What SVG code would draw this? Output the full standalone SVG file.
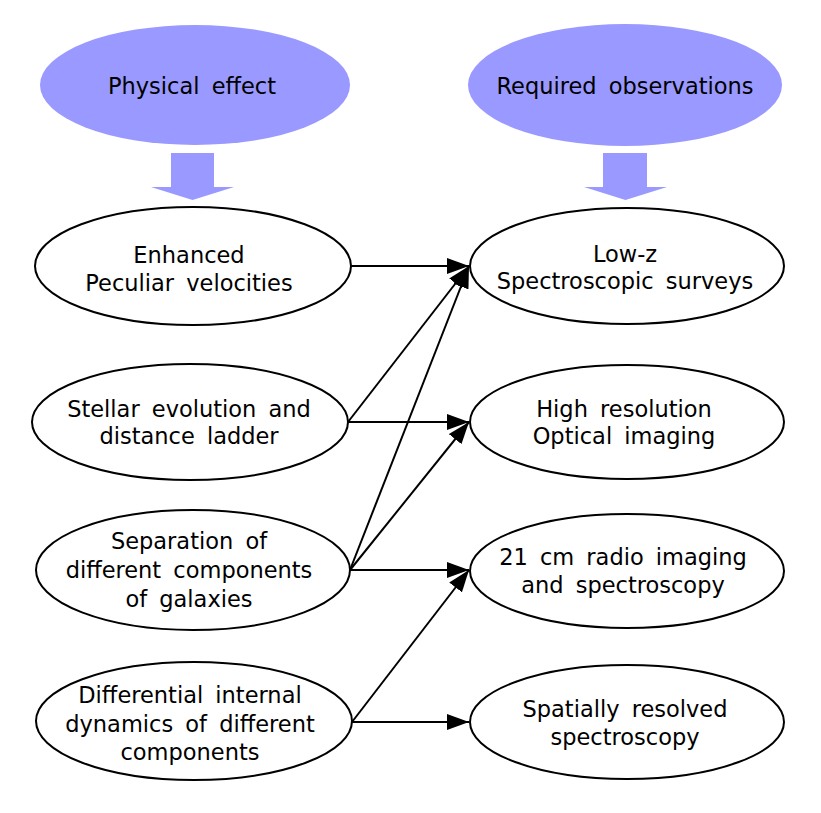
<svg xmlns="http://www.w3.org/2000/svg" width="821" height="813" viewBox="0 0 821 813">
<style>
  .hdr { fill: #9999ff; stroke: none; }
  .blk { fill: #9999ff; stroke: none; }
  .node { fill: #ffffff; stroke: #000000; stroke-width: 2; }
  text { font-family: "DejaVu Sans", Verdana, sans-serif; font-size: 22.5px; fill: #000000; text-anchor: middle; word-spacing: 5px; }
  .edge { stroke: #000000; stroke-width: 2; fill: none; marker-end: url(#ah); }
</style>
<defs>
  <marker id="ah" viewBox="0 0 22 16" refX="22" refY="8" markerWidth="22" markerHeight="16" markerUnits="userSpaceOnUse" orient="auto">
    <path d="M0,0 L22,8 L0,16 z" fill="#000000"/>
  </marker>
</defs>
<rect width="821" height="813" fill="#ffffff"/>

<g id="hdr-physical">
  <ellipse class="hdr" cx="195" cy="85" rx="155" ry="60"/>
  <text x="192" y="94">Physical effect</text>
</g>
<g id="hdr-required">
  <ellipse class="hdr" cx="625" cy="85" rx="157" ry="61"/>
  <text x="625" y="94">Required observations</text>
</g>
<g id="blk-left">
  <path class="blk" d="M171,153 L214,153 L214,187 L234,187 L192.5,200 L151,187 L171,187 z"/>
</g>
<g id="blk-right">
  <path class="blk" d="M603,153 L647,153 L647,187 L667,187 L625.5,200 L584,187 L603,187 z"/>
</g>

<g id="connectors">
  <line class="edge" x1="351" y1="266" x2="469" y2="266"/>
  <line class="edge" x1="348" y1="422" x2="469" y2="266"/>
  <line class="edge" x1="348" y1="422" x2="469" y2="422"/>
  <line class="edge" x1="350" y1="570" x2="469" y2="266"/>
  <line class="edge" x1="350" y1="570" x2="469" y2="422"/>
  <line class="edge" x1="350" y1="570" x2="469" y2="570"/>
  <line class="edge" x1="352" y1="722" x2="469" y2="570"/>
  <line class="edge" x1="352" y1="722" x2="469" y2="722"/>
</g>

<g id="n-enhanced">
  <ellipse class="node" cx="193" cy="266" rx="158" ry="59"/>
  <text x="189" y="263">Enhanced</text>
  <text x="189" y="291">Peculiar velocities</text>
</g>
<g id="n-stellar">
  <ellipse class="node" cx="190" cy="422" rx="158" ry="58"/>
  <text x="189" y="417">Stellar evolution and</text>
  <text x="189" y="444">distance ladder</text>
</g>
<g id="n-separation">
  <ellipse class="node" cx="193" cy="570" rx="157" ry="60"/>
  <text x="189" y="549">Separation of</text>
  <text x="189" y="578">different components</text>
  <text x="189" y="607">of galaxies</text>
</g>
<g id="n-differential">
  <ellipse class="node" cx="194" cy="721" rx="158" ry="59"/>
  <text x="190" y="703">Differential internal</text>
  <text x="190" y="732">dynamics of different</text>
  <text x="190" y="760">components</text>
</g>

<g id="n-lowz">
  <ellipse class="node" cx="627" cy="266" rx="157" ry="58"/>
  <text x="625" y="262">Low-z</text>
  <text x="625" y="289">Spectroscopic surveys</text>
</g>
<g id="n-highres">
  <ellipse class="node" cx="627" cy="422" rx="157" ry="57"/>
  <text x="624" y="417">High resolution</text>
  <text x="624" y="444">Optical imaging</text>
</g>
<g id="n-21cm">
  <ellipse class="node" cx="627" cy="571" rx="157" ry="57"/>
  <text x="623" y="565">21 cm radio imaging</text>
  <text x="623" y="593">and spectroscopy</text>
</g>
<g id="n-spatial">
  <ellipse class="node" cx="627" cy="722" rx="157" ry="57"/>
  <text x="625" y="717">Spatially resolved</text>
  <text x="625" y="745">spectroscopy</text>
</g>
</svg>
